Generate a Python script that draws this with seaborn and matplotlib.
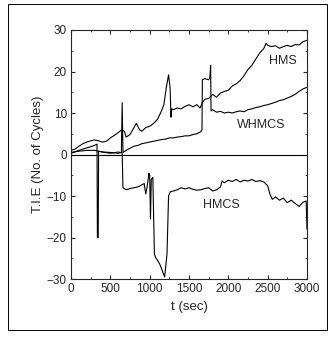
import numpy as np
import pandas as pd
import matplotlib
matplotlib.use('Agg')
import matplotlib.pyplot as plt
import seaborn as sns
from matplotlib.patches import Rectangle
from matplotlib.ticker import MultipleLocator

# HMS
hms_t = [0, 50, 100, 150, 200, 250, 300, 350, 400, 450, 500, 550, 600, 650, 680, 700, 750,
         800, 830, 870, 900, 950, 1000, 1050, 1100, 1150, 1180, 1210, 1240, 1260, 1270, 1280,
         1300, 1350, 1400, 1450, 1500, 1550, 1600, 1640, 1670, 1700, 1750, 1800, 1850, 1900,
         1950, 2000, 2050, 2100, 2150, 2200, 2250, 2300, 2350, 2400, 2450, 2480, 2500, 2550,
         2600, 2650, 2700, 2750, 2800, 2850, 2900, 2950, 3000]
hms_v = [1.0, 1.3, 2.0, 2.6, 3.0, 3.3, 3.5, 3.3, 3.0, 3.2, 4.0, 4.6, 5.3, 6.0, 5.5, 4.2, 4.8,
         6.5, 7.5, 6.0, 5.6, 6.5, 6.8, 7.5, 8.5, 10.5, 12.0, 16.0, 19.2, 16.0, 9.0, 11.0,
         10.8, 11.2, 11.0, 11.6, 12.0, 11.5, 12.0, 11.2, 12.5, 13.3, 13.5, 14.5, 13.8, 14.8,
         15.2, 15.5, 16.5, 17.0, 17.8, 19.0, 20.5, 21.5, 23.0, 24.5, 25.5, 26.8, 26.3, 26.0,
         26.2, 25.6, 26.0, 26.3, 26.0, 26.5, 26.4, 27.2, 27.5]

# WHMCS
whmcs_t = [0, 100, 200, 300, 400, 500, 600, 640, 650, 660, 700, 750, 800, 850, 900, 950,
           1000, 1050, 1100, 1150, 1200, 1250, 1300, 1350, 1400, 1450, 1500, 1550, 1600,
           1650, 1665, 1670, 1700, 1750, 1765, 1775, 1780, 1800, 1850, 1900, 1950, 2000,
           2050, 2100, 2150, 2200, 2250, 2300, 2350, 2400, 2450, 2500, 2550, 2600, 2650,
           2700, 2750, 2800, 2850, 2900, 2950, 3000]
whmcs_v = [0.5, 0.8, 1.0, 1.0, 0.6, 0.5, 0.3, 0.5, 12.5, 0.5, 1.0, 1.5, 2.0, 2.2, 2.6, 2.8,
           3.0, 3.2, 3.4, 3.6, 3.7, 4.0, 4.0, 4.2, 4.3, 4.5, 4.5, 4.8, 5.0,
           5.5, 6.0, 18.0, 18.3, 18.0, 18.5, 21.5, 10.5, 10.8, 10.2, 10.4, 10.0, 10.2,
           10.0, 10.3, 10.5, 10.3, 10.8, 11.0, 11.3, 11.5, 11.8, 12.0, 12.3, 12.6, 13.0,
           13.2, 13.6, 14.0, 14.5, 15.2, 15.8, 16.2]

# HMCS
hmcs_t = [0, 100, 200, 300, 330, 335, 345, 350, 400, 500, 600, 650, 660, 700, 750, 800,
          850, 900, 930, 950, 970, 990, 1000, 1010, 1020, 1040, 1060, 1080, 1100, 1130,
          1160, 1190, 1220, 1240, 1260, 1300, 1350, 1400, 1450, 1500, 1550, 1600, 1650,
          1700, 1750, 1800, 1850, 1900, 1920, 1950, 2000, 2050, 2100, 2150, 2200, 2250,
          2300, 2350, 2400, 2450, 2500, 2530, 2560, 2600, 2650, 2700, 2750, 2800, 2850,
          2900, 2950, 2990, 3000]
hmcs_v = [0.3, 1.0, 1.6, 2.2, 2.5, -20.0, -20.0, 0.8, 0.6, 0.3, 0.6, 0.4, -8.0, -8.5, -8.2, -8.0,
          -7.8, -7.3, -7.0, -9.5, -7.5, -4.5, -5.0, -15.5, -6.0, -5.5, -24.0, -25.0, -25.5, -26.5,
          -28.0, -29.5, -24.0, -10.0, -9.0, -8.8, -8.5, -8.0, -8.3, -8.0, -8.4, -8.6, -8.5,
          -8.2, -8.0, -8.8, -8.5, -7.8, -6.4, -6.8, -6.2, -6.5, -6.0, -6.6, -6.2, -6.4,
          -6.0, -6.5, -6.3, -6.6, -7.5, -9.6, -10.8, -10.2, -11.0, -10.5, -11.6, -11.0, -11.8,
          -12.5, -11.5, -11.2, -18.0]

labels = {'HMS': (2700, 22.6), 'WHMCS': (2420, 7.2), 'HMCS': (1915, -12.2)}

sns.set_style('ticks')
plt.rcParams['font.family'] = ['Liberation Sans', 'DejaVu Sans']

fig = plt.figure(figsize=(3.29, 3.37), dpi=100)
ax = fig.add_axes([0.216, 0.172, 0.717, 0.739])

for t, v in [(hms_t, hms_v), (whmcs_t, whmcs_v), (hmcs_t, hmcs_v)]:
    df = pd.DataFrame({'t': t, 'v': v})
    sns.lineplot(data=df, x='t', y='v', sort=False, estimator=None, color='black',
                 linewidth=0.8, ax=ax)

ax.axhline(0, color='black', linewidth=0.8)

for name, (x, y) in labels.items():
    ax.text(x, y, name, fontsize=9, ha='center', va='center')

ax.set_xlim(0, 3000)
ax.set_ylim(-30, 30)
ax.xaxis.set_major_locator(MultipleLocator(500))
ax.xaxis.set_minor_locator(MultipleLocator(250))
ax.yaxis.set_major_locator(MultipleLocator(10))
ax.yaxis.set_minor_locator(MultipleLocator(5))
ax.tick_params(which='both', direction='in', top=True, right=True, labelsize=8.5, pad=3)
ax.tick_params(which='major', length=3)
ax.tick_params(which='minor', length=1.5)
for s in ax.spines.values():
    s.set_linewidth(0.8)
ax.set_xlabel('t (sec)', fontsize=9.5)
ax.set_ylabel('T.I.E (No. of Cycles)', fontsize=9.5, labelpad=2)

fig.patches.append(Rectangle((0.024, 0.021), 0.97, 0.968, transform=fig.transFigure,
                             fill=False, edgecolor='black', linewidth=0.7))

fig.savefig('out.png', dpi=100)
